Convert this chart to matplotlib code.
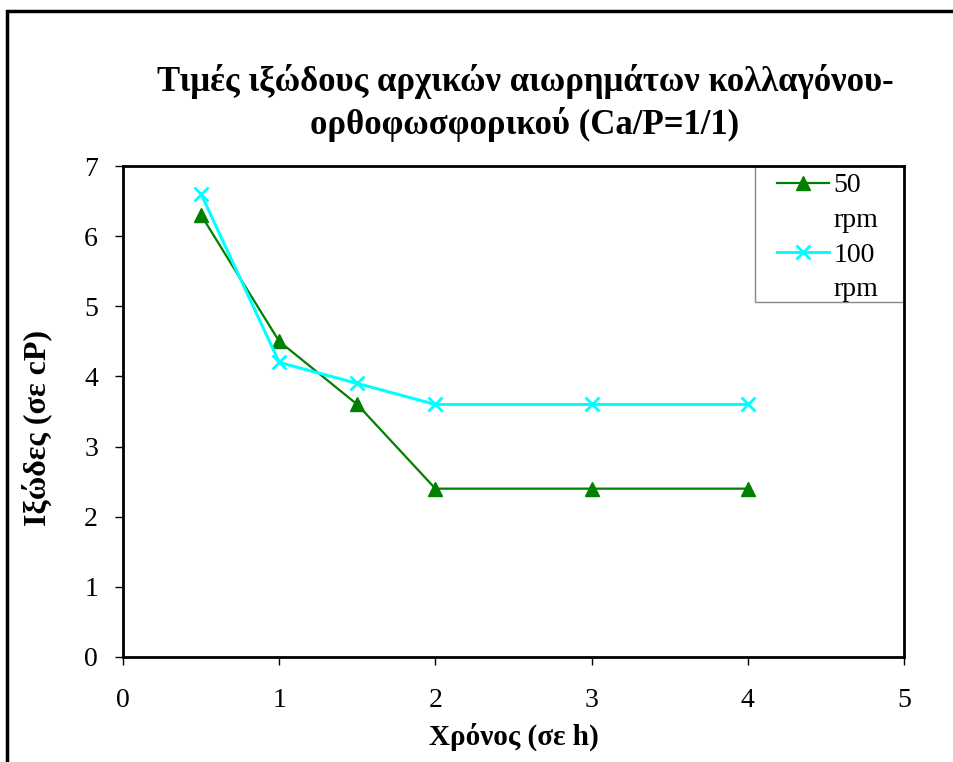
import matplotlib.pyplot as plt
from matplotlib.lines import Line2D
from matplotlib.patches import Rectangle

# viscosity measurements over time
time_h = [0.5, 1, 1.5, 2, 3, 4]
visc_50rpm = [6.3, 4.5, 3.6, 2.4, 2.4, 2.4]
visc_100rpm = [6.6, 4.2, 3.9, 3.6, 3.6, 3.6]

plt.rcParams['font.family'] = ['Liberation Serif', 'DejaVu Serif']

fig = plt.figure(figsize=(9.54, 7.62), dpi=100)
ax = fig.add_axes([123 / 954, 1 - 657 / 762, (904 - 123) / 954, (657 - 166) / 762])

l50, = ax.plot(time_h, visc_50rpm, color='#008000', lw=1.6, marker='^', ms=10)
l100, = ax.plot(time_h, visc_100rpm, color='#00FFFF', lw=2.2, marker='x', ms=10,
                mew=2)

ax.set_xlim(0, 5)
ax.set_ylim(0, 7)
ax.set_xticks(range(6))
ax.set_yticks(range(8))
ax.tick_params(labelsize=20, direction='out', length=6, width=1)
ax.tick_params(axis='x', pad=16)
ax.tick_params(axis='y', pad=12)
for s in ax.spines.values():
    s.set_linewidth(2)

ax.set_xlabel('Χρόνος (σε h)', fontsize=21, fontweight='bold', labelpad=7)
ax.set_ylabel('Ιξώδες (σε cP)', fontsize=23, fontweight='bold')
ax.yaxis.set_label_coords(-0.09, 0.466)

fig.text(525 / 954, 1 - 103 / 762,
         'Τιμές ιξώδους αρχικών αιωρημάτων κολλαγόνου-\nορθοφωσφορικού (Ca/P=1/1)',
         ha='center', va='center', fontsize=25, fontweight='bold',
         linespacing=1.32)

# legend: each label wraps onto a second line, handle sits on the first
blank = Line2D([], [], color='none')
ax.legend([l50, blank, l100, blank], ['50', 'rpm', '100', 'rpm'],
          loc='upper left', bbox_to_anchor=(0.837, 0.986), fontsize=20,
          frameon=False, borderpad=0, borderaxespad=0, handlelength=1.9,
          handletextpad=0.15, labelspacing=0.33)
ax.add_patch(Rectangle((0.809, 0.723), 0.191, 0.277, transform=ax.transAxes,
                       fill=False, edgecolor='#888888', lw=1, zorder=1))

# outer chart frame
fig.patches.append(Rectangle((7 / 954, -1), 2, 2 - 11 / 762,
                             transform=fig.transFigure, fill=False,
                             edgecolor='black', lw=2.5))

fig.savefig('out.png', dpi=100)
